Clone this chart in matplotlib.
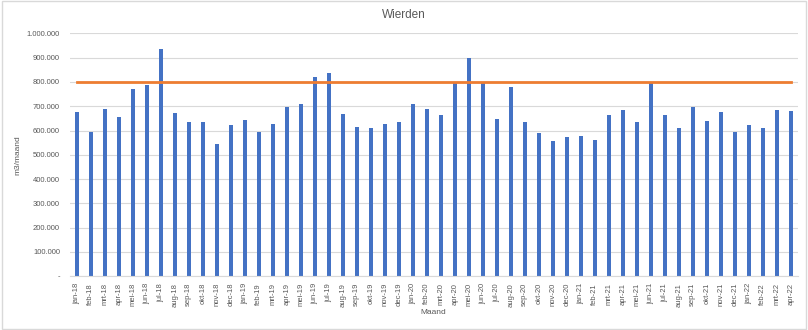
import matplotlib.pyplot as plt
from matplotlib.ticker import FuncFormatter
import numpy as np

# Monthly volumes for Wierden (m3 per month)
months = ["jan-18", "feb-18", "mrt-18", "apr-18", "mei-18", "jun-18", "jul-18", "aug-18",
          "sep-18", "okt-18", "nov-18", "dec-18", "jan-19", "feb-19", "mrt-19", "apr-19",
          "mei-19", "jun-19", "jul-19", "aug-19", "sep-19", "okt-19", "nov-19", "dec-19",
          "jan-20", "feb-20", "mrt-20", "apr-20", "mei-20", "jun-20", "jul-20", "aug-20",
          "sep-20", "okt-20", "nov-20", "dec-20", "jan-21", "feb-21", "mrt-21", "apr-21",
          "mei-21", "jun-21", "jul-21", "aug-21", "sep-21", "okt-21", "nov-21", "dec-21",
          "jan-22", "feb-22", "mrt-22", "apr-22"]
volume = [676000, 595000, 689000, 656000, 772000, 788000, 935000, 671000,
          634000, 634000, 544000, 621000, 642000, 592000, 625000, 696000,
          711000, 821000, 836000, 667000, 613000, 610000, 625000, 635000,
          711000, 689000, 663000, 798000, 899000, 798000, 649000, 778000,
          634000, 588000, 557000, 573000, 579000, 561000, 663000, 683000,
          634000, 798000, 662000, 609000, 697000, 639000, 678000, 592000,
          621000, 609000, 685000, 679000]
limit = 800000

text_grey = "#595959"
plt.rcParams["font.family"] = ["Liberation Sans", "DejaVu Sans"]

fig = plt.figure(figsize=(8.08, 3.30), dpi=100)
ax = fig.add_axes([0.0863, 0.1636, 0.9010, 0.7349])

x = np.arange(len(months))
ax.bar(x, volume, width=0.3, color="#4472C4", zorder=2)
ax.plot([x[0], x[-1]], [limit, limit], color="#ED7D31", linewidth=2, zorder=3)

ax.set_xlim(-0.5, len(months) - 0.5)
ax.set_ylim(0, 1000000)
ax.set_yticks(np.arange(0, 1000001, 100000))
ax.yaxis.set_major_formatter(FuncFormatter(
    lambda v, p: "-" if v == 0 else f"{int(v):,}".replace(",", ".")))
ax.set_xticks(x)
ax.set_xticklabels(months, rotation=90, fontsize=5.5, color=text_grey)
ax.tick_params(axis="y", labelsize=5.5, labelcolor=text_grey, length=0, pad=7)
ax.tick_params(axis="x", length=0, pad=5)

ax.grid(axis="y", color="#d9d9d9", linewidth=0.8, zorder=0)
for s in ["top", "right", "left"]:
    ax.spines[s].set_visible(False)
ax.spines["bottom"].set_color("#d9d9d9")

fig.text(0.5, 0.955, "Wierden", fontsize=8.5, color=text_grey, ha="center", va="center")
fig.text(0.022, 0.53, "m3/maand", fontsize=6, color=text_grey, rotation=90,
         ha="center", va="center")
fig.text(0.536, 0.052, "Maand", fontsize=6, color=text_grey, ha="center", va="center")

# light frame round the whole chart
fig.patches.append(plt.Rectangle((0.002, 0.003), 0.996, 0.994, transform=fig.transFigure,
                                 fill=False, edgecolor="#d9d9d9", linewidth=1))

fig.savefig("out.png", dpi=100)
